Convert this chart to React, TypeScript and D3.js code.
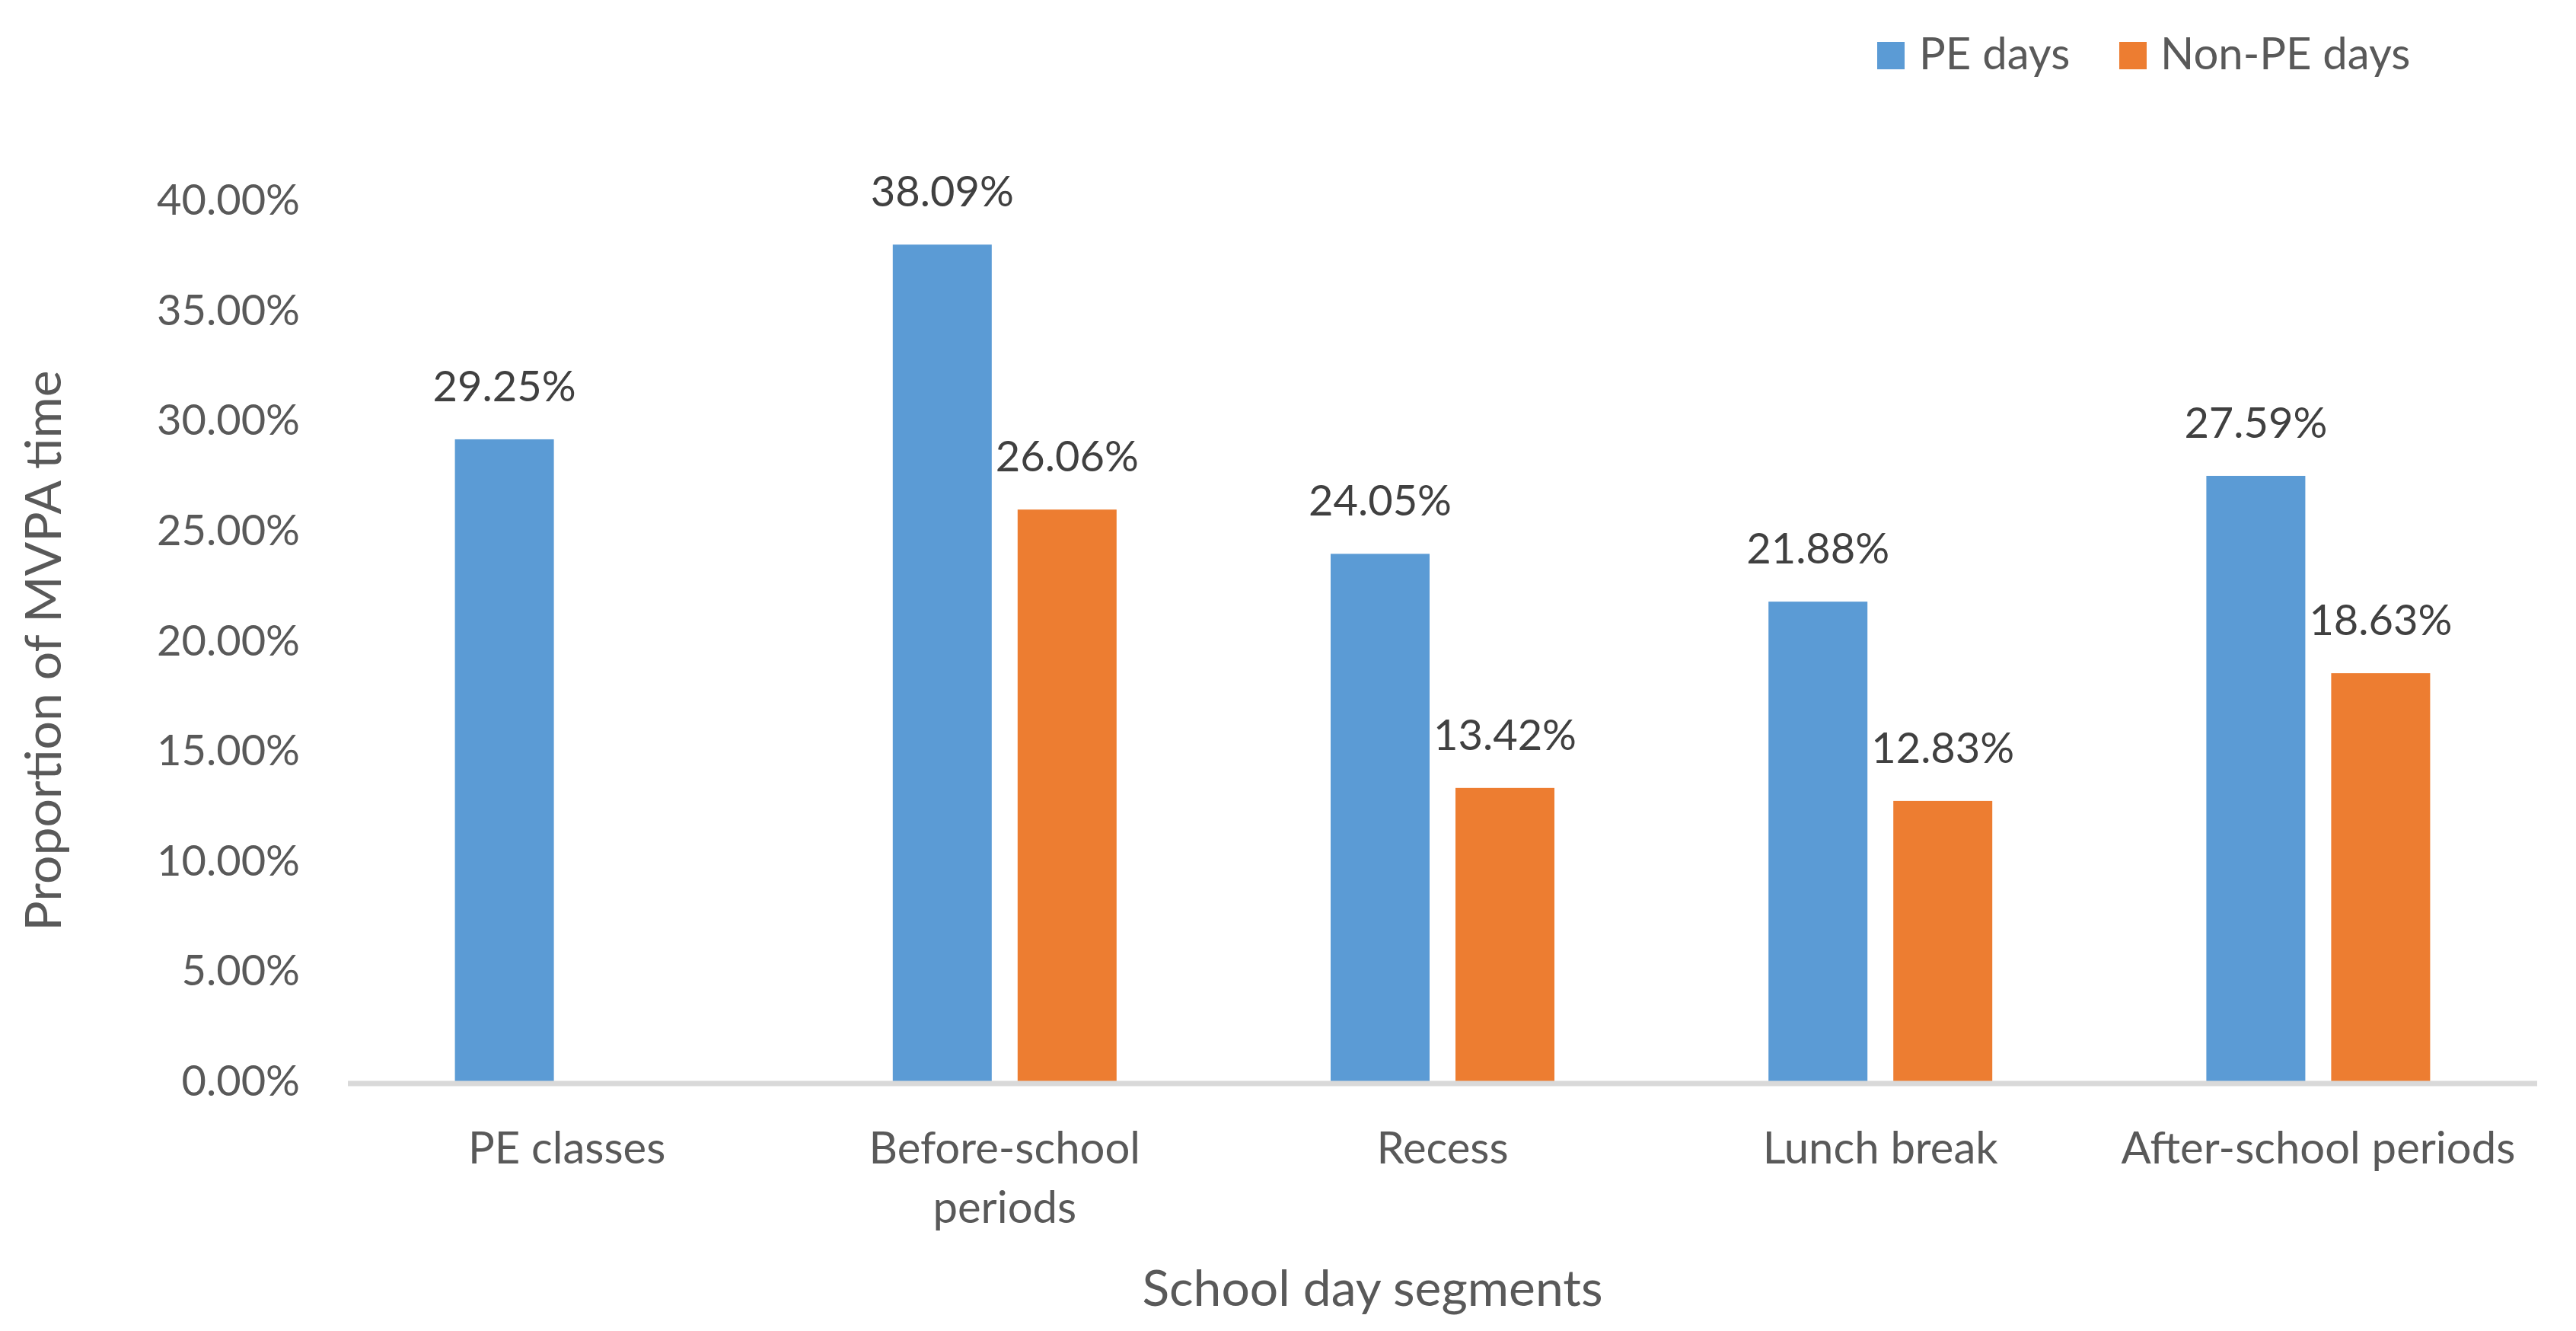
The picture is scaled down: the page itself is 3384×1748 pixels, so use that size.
import React from 'react';
import * as d3 from 'd3';

const categories = ['PE classes', 'Before-school periods', 'Recess', 'Lunch break', 'After-school periods'];
const categoryLines = [['PE classes'], ['Before-school', 'periods'], ['Recess'], ['Lunch break'], ['After-school periods']];
const seriesNames = ['PE days', 'Non-PE days'];
const peDays = [29.25, 38.09, 24.05, 21.88, 27.59];
const nonPeDays: (number | null)[] = [null, 26.06, 13.42, 12.83, 18.63];
const yTicks = [0, 5, 10, 15, 20, 25, 30, 35, 40];

const width = 3384, height = 1748;
const plot = { left: 457, right: 3333, top: 266, bottom: 1423 };
const colors = ['#5B9BD5', '#ED7D31'];
const font = 'Lato, "Open Sans", sans-serif';

const App: React.FC = () => {
    const x0 = d3.scaleBand<string>().domain(categories).range([plot.left, plot.right]);
    // two bars of 130px with a 34px gap, centred in each band
    const groupW = 294;
    const x1 = d3.scaleBand<string>()
        .domain(seriesNames)
        .range([(x0.bandwidth() - groupW) / 2, (x0.bandwidth() + groupW) / 2])
        .paddingInner(34 / 164);
    const y = d3.scaleLinear().domain([0, 40]).range([plot.bottom, plot.top]);
    const fmt = (v: number) => v.toFixed(2) + '%';

    const series = [peDays, nonPeDays];

    return (
        <svg width={width} height={height} style={{ position: 'absolute', left: 0, top: 0, background: '#fff' }}
            fontFamily={font}>
            {/* y tick labels */}
            {yTicks.map(t => (
                <text key={t} x={394} y={y(t) + 16} textAnchor="end" fontSize={56} fill="#595959">{fmt(t)}</text>
            ))}

            {/* bars */}
            {series.map((vals, si) => vals.map((v, ci) => {
                if (v == null) return null;
                const bx = (x0(categories[ci]) as number) + (x1(seriesNames[si]) as number);
                return (
                    <g key={`${si}-${ci}`}>
                        <rect x={bx} y={y(v)} width={x1.bandwidth()} height={y(0) - y(v)} fill={colors[si]} />
                        <text x={bx + x1.bandwidth() / 2} y={y(v) - 50} textAnchor="middle" fontSize={56} fill="#404040">{fmt(v)}</text>
                    </g>
                );
            }))}

            {/* x axis line */}
            <line x1={plot.left} x2={plot.right} y1={y(0)} y2={y(0)} stroke="#D9D9D9" strokeWidth={7} />

            {/* category labels */}
            {categories.map((c, ci) => (
                <text key={c} x={(x0(c) as number) + x0.bandwidth() / 2} y={1528} textAnchor="middle" fontSize={58} fill="#595959">
                    {categoryLines[ci].map((ln, li) => (
                        <tspan key={li} x={(x0(c) as number) + x0.bandwidth() / 2} dy={li === 0 ? 0 : 78}>{ln}</tspan>
                    ))}
                </text>
            ))}

            {/* axis titles */}
            <text x={1803} y={1715} textAnchor="middle" fontSize={66} fill="#595959">School day segments</text>
            <text transform={`translate(80, ${(plot.top + plot.bottom) / 2 + 10}) rotate(-90)`} textAnchor="middle" fontSize={66} fill="#595959">Proportion of MVPA time</text>

            {/* legend */}
            <rect x={2466} y={55} width={36} height={36} fill={colors[0]} />
            <text x={2521} y={91} fontSize={58} fill="#595959">{seriesNames[0]}</text>
            <rect x={2784} y={55} width={36} height={36} fill={colors[1]} />
            <text x={2838} y={91} fontSize={58} fill="#595959">{seriesNames[1]}</text>
        </svg>
    );
};

export default App;
